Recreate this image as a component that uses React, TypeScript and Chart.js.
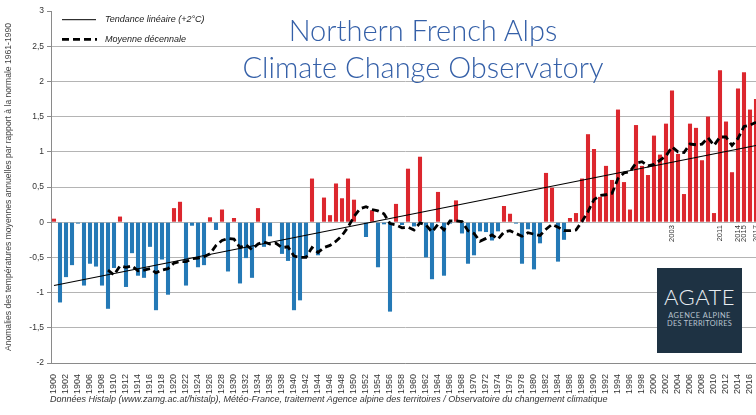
import React, { useEffect, useRef } from 'react';
import { Chart, registerables } from 'chart.js';

Chart.register(...registerables);

// ---------- DATA ----------
const years: number[] = [
  1900, 1901, 1902, 1903, 1904, 1905, 1906, 1907, 1908, 1909,
  1910, 1911, 1912, 1913, 1914, 1915, 1916, 1917, 1918, 1919,
  1920, 1921, 1922, 1923, 1924, 1925, 1926, 1927, 1928, 1929,
  1930, 1931, 1932, 1933, 1934, 1935, 1936, 1937, 1938, 1939,
  1940, 1941, 1942, 1943, 1944, 1945, 1946, 1947, 1948, 1949,
  1950, 1951, 1952, 1953, 1954, 1955, 1956, 1957, 1958, 1959,
  1960, 1961, 1962, 1963, 1964, 1965, 1966, 1967, 1968, 1969,
  1970, 1971, 1972, 1973, 1974, 1975, 1976, 1977, 1978, 1979,
  1980, 1981, 1982, 1983, 1984, 1985, 1986, 1987, 1988, 1989,
  1990, 1991, 1992, 1993, 1994, 1995, 1996, 1997, 1998, 1999,
  2000, 2001, 2002, 2003, 2004, 2005, 2006, 2007, 2008, 2009,
  2010, 2011, 2012, 2013, 2014, 2015, 2016, 2017,
];

// Annual temperature anomalies (°C) vs 1961-1990 normal
const anomalies: number[] = [
  0.05, -1.14, -0.78, -0.61, -0.02, -0.90, -0.59, -0.63, -0.90, -1.23,
  -0.65, 0.08, -0.92, -0.44, -0.76, -0.79, -0.35, -1.25, -0.53, -1.03,
  0.20, 0.29, -0.90, -0.05, -0.64, -0.61, 0.07, -0.11, 0.18, -0.70,
  0.06, -0.87, -0.51, -0.79, 0.20, -0.35, -0.20, 0.00, -0.45, -0.55,
  -1.25, -1.11, -0.49, 0.62, -0.47, 0.35, 0.10, 0.55, 0.34, 0.62,
  0.32, 0.00, -0.21, 0.17, -0.64, -0.03, -1.27, 0.26, -0.04, 0.76,
  -0.06, 0.93, -0.50, -0.81, 0.43, -0.76, -0.02, 0.31, -0.16, -0.59,
  -0.47, -0.13, -0.14, -0.26, -0.13, 0.23, 0.12, -0.02, -0.59, -0.10,
  -0.67, -0.30, 0.70, 0.49, -0.56, -0.25, 0.06, 0.13, 0.62, 1.25,
  1.04, 0.36, 0.80, 0.60, 1.60, 0.57, 0.18, 1.38, 0.80, 0.67,
  1.23, 0.96, 1.40, 1.87, 0.97, 0.40, 1.40, 1.34, 0.88, 1.50,
  0.13, 2.16, 1.43, 0.71, 1.90, 2.13, 1.60, 1.75,
];

// Decadal mean (dashed line)
const decadal: (number | null)[] = [
  null, null, null, null, null, null, null, null, null, -0.68,
  -0.75, -0.62, -0.64, -0.62, -0.69, -0.68, -0.66, -0.72, -0.68, -0.66,
  -0.58, -0.56, -0.56, -0.52, -0.51, -0.49, -0.45, -0.33, -0.26, -0.23,
  -0.24, -0.36, -0.32, -0.39, -0.31, -0.28, -0.31, -0.30, -0.36, -0.35,
  -0.48, -0.50, -0.50, -0.36, -0.43, -0.36, -0.33, -0.27, -0.19, -0.07,
  0.08, 0.19, 0.22, 0.18, 0.16, 0.12, -0.02, -0.04, -0.08, -0.07,
  -0.11, -0.01, -0.04, -0.14, -0.03, -0.11, 0.02, 0.02, 0.01, -0.12,
  -0.16, -0.27, -0.23, -0.18, -0.24, -0.14, -0.12, -0.16, -0.20, -0.15,
  -0.17, -0.19, -0.10, -0.03, -0.07, -0.12, -0.12, -0.11, 0.01, 0.15,
  0.32, 0.38, 0.39, 0.41, 0.62, 0.70, 0.72, 0.84, 0.86, 0.80,
  0.82, 0.88, 0.94, 1.07, 1.00, 0.99, 1.11, 1.10, 1.11, 1.20,
  1.09, 1.21, 1.21, 1.09, 1.19, 1.36, 1.38, 1.42,
];

// Linear trend end points (+2°C)
const trendStartValue = -0.9; // 1900
const trendEndValue = 1.09; // 2017

const highlightYears: number[] = [2003, 2011, 2014, 2015, 2017];

const legendLabels: string[] = ['Tendance linéaire (+2°C)', 'Moyenne décennale'];

const yAxisTitle = 'Anomalies des températures moyennes annuelles par rapport à la normale 1961-1990';
const footerText =
  'Données Histalp (www.zamg.ac.at/histalp), Météo-France, traitement Agence alpine des territoires / Observatoire du changement climatique';
const titleLines: string[] = ['Northern French Alps', 'Climate Change Observatory'];

// ---------- STYLE ----------
const RED = '#dc272e';
const BLUE = '#2479b6';
const FONT = "'Liberation Sans', Arial, sans-serif";

const overlayPlugin = {
  id: 'overlayPlugin',
  afterDatasetsDraw(chart: any) {
    const { ctx, chartArea, scales } = chart;
    const x = scales.x;
    const y = scales.y;
    ctx.save();
    // legend inside chart area
    const lx0 = chartArea.left + 11;
    const lx1 = chartArea.left + 45;
    const rows = [chartArea.top + 8.7, chartArea.top + 28.3];
    ctx.strokeStyle = '#000';
    ctx.lineWidth = 1;
    ctx.setLineDash([]);
    ctx.beginPath();
    ctx.moveTo(lx0, rows[0]);
    ctx.lineTo(lx1, rows[0]);
    ctx.stroke();
    ctx.lineWidth = 2.8;
    ctx.setLineDash([7, 4]);
    ctx.beginPath();
    ctx.moveTo(lx0, rows[1]);
    ctx.lineTo(lx1 + 1, rows[1]);
    ctx.stroke();
    ctx.setLineDash([]);
    ctx.fillStyle = '#222';
    ctx.font = `italic 9px ${FONT}`;
    ctx.textAlign = 'left';
    ctx.textBaseline = 'middle';
    legendLabels.forEach((t, i) => ctx.fillText(t, chartArea.left + 54, rows[i]));

    // highlighted years (rotated)
    ctx.font = `7.5px ${FONT}`;
    ctx.fillStyle = '#333';
    const y0 = y.getPixelForValue(0);
    highlightYears.forEach((yr) => {
      const idx = years.indexOf(yr);
      if (idx < 0) return;
      const px = x.getPixelForValue(idx);
      ctx.save();
      ctx.translate(px, y0 + 3);
      ctx.rotate(-Math.PI / 2);
      ctx.textAlign = 'right';
      ctx.textBaseline = 'middle';
      ctx.fillText(String(yr), 0, 0);
      ctx.restore();
    });
    ctx.restore();
  },
};

export default function App() {
  const canvasRef = useRef<HTMLCanvasElement>(null);

  useEffect(() => {
    const canvas = canvasRef.current;
    if (!canvas) return;
    const n = years.length;
    const trend: (number | null)[] = years.map((_, i) =>
      i === 0 ? trendStartValue : i === n - 1 ? trendEndValue : null
    );
    const chart = new Chart(canvas, {
      type: 'bar',
      data: {
        labels: years.map(String),
        datasets: [
          {
            type: 'line',
            label: legendLabels[0],
            data: trend,
            borderColor: '#000',
            borderWidth: 1.1,
            pointRadius: 0,
            spanGaps: true,
            order: 1,
          } as any,
          {
            type: 'line',
            label: legendLabels[1],
            data: decadal,
            borderColor: '#000',
            borderWidth: 2.8,
            borderDash: [7, 4],
            pointRadius: 0,
            tension: 0,
            order: 2,
          } as any,
          {
            type: 'bar',
            label: 'Anomalie',
            data: anomalies,
            backgroundColor: anomalies.map((v) => (v >= 0 ? RED : BLUE)),
            barPercentage: 0.68,
            categoryPercentage: 1,
            order: 3,
          } as any,
        ],
      },
      options: {
        responsive: false,
        animation: false,
        layout: { padding: { top: 11, right: 7, left: 0, bottom: 0 } },
        plugins: {
          legend: { display: false },
          tooltip: { enabled: false },
          title: { display: false },
        },
        scales: {
          x: {
            offset: true,
            grid: { display: false },
            border: { color: '#8a8a8a', width: 1 },
            ticks: {
              autoSkip: false,
              maxRotation: 90,
              minRotation: 90,
              padding: 3,
              color: '#333',
              font: { family: FONT, size: 9 },
              callback: (_v: any, i: number) => (i % 2 === 0 ? String(years[i]) : null),
            },
            afterFit: (s: any) => {
              s.height = 52;
            },
          },
          y: {
            min: -2,
            max: 3,
            border: { color: '#8a8a8a', width: 1 },
            grid: {
              color: (c: any) => (c.tick && c.tick.value === 3 ? 'rgba(0,0,0,0)' : '#b4b4b4'),
              tickColor: '#8a8a8a',
              tickLength: 4,
              lineWidth: 1,
            },
            ticks: {
              stepSize: 0.5,
              padding: 3,
              color: '#333',
              font: { family: FONT, size: 8.5 },
              callback: (v: any) => String(v).replace('.', ','),
            },
            title: {
              display: true,
              text: yAxisTitle,
              color: '#444',
              font: { family: FONT, size: 8.6 },
              padding: { top: 3, bottom: 0 },
            },
            afterFit: (s: any) => {
              s.width = 51;
            },
          },
        },
      },
      plugins: [overlayPlugin],
    } as any);
    return () => chart.destroy();
  }, []);

  return (
    <div
      style={{
        position: 'fixed',
        left: 0,
        top: 0,
        width: 756,
        height: 415,
        overflow: 'hidden',
        background: '#fff',
      }}
    >
      <canvas
        ref={canvasRef}
        width={766}
        height={415}
        style={{ position: 'absolute', left: 0, top: 0, width: 766, height: 415 }}
      />
      {titleLines.map((t, i) => (
        <div
          key={t}
          style={{
            position: 'absolute',
            left: 173,
            width: 500,
            top: 12 + i * 37,
            textAlign: 'center',
            fontFamily: "Lato, 'Open Sans', sans-serif",
            fontWeight: 300,
            fontSize: 29,
            lineHeight: '36px',
            color: '#3560a8',
            whiteSpace: 'nowrap',
          }}
        >
          {t}
        </div>
      ))}
      <div
        style={{
          position: 'absolute',
          left: 657,
          top: 268,
          width: 85,
          height: 85,
          background: '#1e3243',
          color: '#e8edf2',
          textAlign: 'center',
          fontFamily: "Lato, 'Open Sans', sans-serif",
        }}
      >
        <div style={{ position: 'absolute', left: 0, width: 85, top: 17, fontSize: 22, lineHeight: '24px', fontWeight: 300, letterSpacing: 0.5 }}>
          AGATE
        </div>
        <div style={{ position: 'absolute', left: 0, width: 85, top: 44, fontSize: 7.4, lineHeight: '8px', color: '#b9c4cf', letterSpacing: 0.5 }}>
          AGENCE ALPINE
        </div>
        <div style={{ position: 'absolute', left: 0, width: 85, top: 52, fontSize: 7.4, lineHeight: '8px', color: '#b9c4cf', letterSpacing: 0.3 }}>
          DES TERRITOIRES
        </div>
      </div>
      <div
        style={{
          position: 'absolute',
          left: 50,
          top: 394,
          fontFamily: FONT,
          fontStyle: 'italic',
          fontSize: 9,
          lineHeight: '11px',
          color: '#333',
          whiteSpace: 'nowrap',
        }}
      >
        {footerText}
      </div>
    </div>
  );
}
